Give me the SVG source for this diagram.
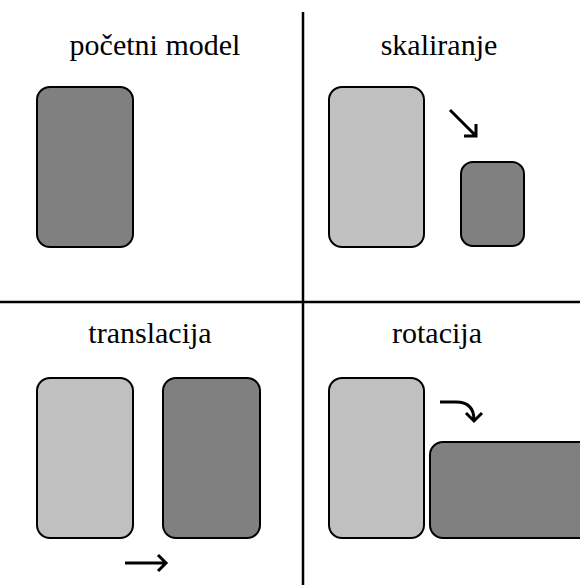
<svg xmlns="http://www.w3.org/2000/svg" width="580" height="585" viewBox="0 0 580 585">
<style>
.t{font-family:"Liberation Serif",serif;font-size:30px;fill:#000;text-anchor:middle}
.l{fill:#c0c0c0;stroke:#000;stroke-width:2}
.d{fill:#808080;stroke:#000;stroke-width:2}
.a{fill:none;stroke:#000;stroke-width:3}
</style>
<rect width="580" height="585" fill="#fff"/>
<g id="grid">
<line x1="303" y1="12" x2="303" y2="585" stroke="#000" stroke-width="2.5"/>
<line x1="0" y1="302" x2="580" y2="302" stroke="#000" stroke-width="2.5"/>
</g>
<g id="titles">
<text class="t" x="155" y="55">početni model</text>
<text class="t" x="439" y="55">skaliranje</text>
<text class="t" x="150" y="343">translacija</text>
<text class="t" x="437" y="343">rotacija</text>
</g>
<g id="n1"><rect class="d" x="37" y="87" width="96" height="160" rx="13"/></g>
<g id="n2"><rect class="l" x="329" y="87" width="95" height="160" rx="13"/><rect class="d" x="461" y="162" width="63" height="84" rx="12"/></g>
<g id="n3"><rect class="l" x="37" y="378" width="96" height="160" rx="13"/><rect class="d" x="163" y="378" width="97" height="160" rx="13"/></g>
<g id="n4"><rect class="l" x="329" y="378" width="95" height="160" rx="13"/><rect class="d" x="430" y="442" width="170" height="96" rx="13"/></g>
<g id="arrows">
<path class="a" d="M450 110 L476 136 M476 124 L476 136 L464 136"/>
<path class="a" d="M125 563 L166 563 M158 555 L166 563 L158 571"/>
<path class="a" d="M440 402 L456 402 Q474 402 474 420 M466 413 L474 421 L482 413"/>
</g>
</svg>
